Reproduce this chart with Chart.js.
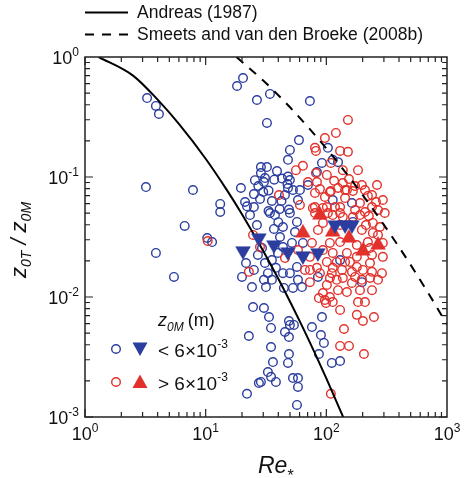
<!DOCTYPE html>
<html>
<head>
<meta charset="utf-8">
<script src="https://cdn.jsdelivr.net/npm/chart.js"></script>
<style>
  body { margin: 0; background: #fff; }
</style>
</head>
<body>
<canvas id="grafico" width="464" height="478"></canvas>
<script>
// Re* vs z0T/z0M
const andreas = [[1.3, 1.0], [2.5, 0.70], [4, 0.441], [6, 0.277], [10, 0.142], [15, 0.0777], [20, 0.0489],
    [30, 0.0242], [40, 0.0142], [60, 0.00633], [80, 0.00344], [100, 0.0021], [140, 0.000965]];
const smeets = [[18, 1.0], [30, 0.636], [50, 0.381], [100, 0.173], [200, 0.0708], [400, 0.0261], [700, 0.01077], [1000, 0.0059]];

// z0M < 6e-3
let azulCirc = [[3.27, 0.455], [3.87, 0.391], [4.10, 0.335], [3.2, 0.0825], [7.85, 0.0779], [13.2, 0.0596], [13.2, 0.0511],
    [6.7, 0.0391], [10.3, 0.031], [11.3, 0.0287], [3.87, 0.0233], [5.46, 0.0147],
    [18.2, 0.573], [20.4, 0.668], [26.6, 0.438], [34.1, 0.492], [73.1, 0.43], [32.2, 0.282], [59.3, 0.203], [49.9, 0.168],
    [48.1, 0.139], [103, 0.175], [113, 0.139], [125, 0.133], [92, 0.131], [83.6, 0.11],
    [28.7, 0.121], [32.2, 0.121], [39, 0.112], [28.7, 0.108], [31, 0.098], [37, 0.095], [42.9, 0.097], [48.1, 0.101],
    [27.3, 0.0841], [33.2, 0.077], [30, 0.075], [19.6, 0.081], [25.1, 0.072], [21.2, 0.0619], [22, 0.057], [25.1, 0.0562],
    [35.4, 0.0631], [41, 0.054], [33.2, 0.0521], [42.5, 0.063], [47.6, 0.0874], [52.9, 0.0779], [60.4, 0.0779], [58.2, 0.0643],
    [49, 0.0536], [30.4, 0.0908], [28.2, 0.0656], [48.1, 0.081], [70.4, 0.0858], [49.9, 0.0944], [163, 0.0607], [113, 0.0643],
    [57.1, 0.0422], [26.6, 0.0398], [36.8, 0.0369], [40, 0.042], [43.7, 0.0383], [49.9, 0.0501], [34.1, 0.0501], [41.3, 0.0316],
    [29.3, 0.0256], [27.1, 0.0224], [39.7, 0.0233], [43.7, 0.0261], [35.4, 0.0203], [21.6, 0.0192], [31, 0.0192], [25.1, 0.0168],
    [20, 0.0147], [32.8, 0.0158], [38.2, 0.0175], [43.7, 0.0158], [30.4, 0.0139], [35.4, 0.0139], [31.6, 0.0121], [44.5, 0.0119],
    [24.2, 0.0121], [24.7, 0.00825], [30.4, 0.0081], [51.9, 0.0282], [64, 0.0282], [57.1, 0.0178], [49.9, 0.0158], [58.2, 0.0139],
    [52.9, 0.0119], [62.8, 0.0121], [130, 0.0203], [197, 0.0133], [166, 0.0422], [85.2, 0.0147],
    [25.6, 0.094], [45.4, 0.0708], [37.5, 0.0482], [23.3, 0.0482], [55, 0.0348],
    [33.5, 0.00681], [34.8, 0.00552], [49, 0.00631], [49.9, 0.00585], [53.9, 0.00585], [45.4, 0.00511], [49, 0.00464],
    [22.8, 0.00473], [76, 0.00562], [92, 0.00681], [90.2, 0.00482], [95.5, 0.00414], [34.8, 0.00383], [49, 0.00335],
    [86.8, 0.00335], [36.1, 0.00287], [48.1, 0.00282], [111, 0.00282], [130, 0.00293], [32.8, 0.00237], [34.8, 0.00216],
    [38.2, 0.00196], [28.7, 0.00196], [27.6, 0.00192], [52.9, 0.00211], [58.2, 0.00211], [58.2, 0.00178], [22, 0.00156],
    [57.1, 0.00126]];

// z0M > 6e-3
let vermCirc = [[10.4, 0.0293], [40.5, 0.0708], [24.7, 0.0329], [28.2, 0.0261], [45.4, 0.0211], [22.8, 0.0162],
    [151, 0.299], [120, 0.233], [97.3, 0.211], [80.5, 0.175], [82, 0.165], [130, 0.165], [151, 0.162], [109, 0.131], [64, 0.124],
    [56, 0.114], [82, 0.108], [70.4, 0.0908], [83.6, 0.0908], [116, 0.093], [137, 0.0891], [154, 0.0962], [173, 0.084],
    [88.5, 0.0794], [97.3, 0.0681], [109, 0.0764], [125, 0.081], [148, 0.0779], [166, 0.0764], [101, 0.0562], [80.5, 0.0562],
    [118, 0.0562], [143, 0.0668], [221, 0.0695], [190, 0.0607], [243, 0.0414], [209, 0.0511], [258, 0.0619], [294, 0.0643],
    [130, 0.0562], [93.7, 0.0552], [173, 0.0531], [239, 0.0562], [268, 0.0531], [225, 0.0473], [113, 0.0482], [166, 0.0464],
    [137, 0.0464], [77.4, 0.0552], [80.5, 0.0736], [107, 0.075],
    [80.5, 0.0501], [103, 0.0501], [130, 0.0501], [243, 0.0342], [278, 0.0383], [93.7, 0.0414], [197, 0.0362], [221, 0.0287],
    [107, 0.0282], [130, 0.0287], [179, 0.0271], [93.7, 0.0246], [113, 0.0233], [148, 0.0233], [179, 0.0216], [239, 0.0224],
    [294, 0.0216], [101, 0.0196], [143, 0.0196], [179, 0.0178], [230, 0.0192], [83.6, 0.0175], [113, 0.0175], [135, 0.0168],
    [66.5, 0.0168], [163, 0.0162], [239, 0.0162], [289, 0.0158], [88.5, 0.0158], [107, 0.0144], [137, 0.0144], [173, 0.0147],
    [230, 0.0144], [268, 0.0139], [73.1, 0.0133], [101, 0.0126], [163, 0.0131], [190, 0.0114], [125, 0.0114], [93.7, 0.0108],
    [107, 0.01], [97.3, 0.00944], [183, 0.00908], [209, 0.00908], [294, 0.0282], [73.1, 0.0216], [58.2, 0.0246],
    [86.8, 0.0098], [99.3, 0.00891], [140, 0.00541], [130, 0.00391], [154, 0.00391], [109, 0.00156], [205, 0.00335],
    [201, 0.00631], [248, 0.00681], [197, 0.0139], [122, 0.0139], [111, 0.0158],
    [143, 0.0779], [197, 0.0858], [239, 0.0708], [190, 0.0482], [130, 0.0398], [213, 0.0398], [305, 0.0501], [268, 0.0329],
    [157, 0.0196], [201, 0.0168], [122, 0.0196], [76, 0.0282], [85.2, 0.0362], [230, 0.0256], [148, 0.011], [113, 0.00908],
    [239, 0.0114], [179, 0.0071], [130, 0.0078], [73.1, 0.0168], [60.4, 0.0585], [101, 0.104], [137, 0.114], [183, 0.114],
    [209, 0.0779], [263, 0.0858]];

// medias (triangulos)
let azulTri = [[20.4, 0.0242], [27.6, 0.031], [36.8, 0.0271], [48.1, 0.0237], [64, 0.022], [85.2, 0.0233],
    [118, 0.0398], [143, 0.0398], [163, 0.0398]];
let vermTri = [[88.5, 0.0482], [64, 0.0342], [113, 0.0348], [154, 0.031], [201, 0.0242], [268, 0.0271]];

const expX = [0, 1, 2, 3];
const expY = [0, -1, -2, -3];

const azul = "#2b3d9e";
const verm = "#e2302a";
const fonte = '"Liberation Sans", Arial, sans-serif';

const pts = (arr) => arr.map(p => ({ x: p[0], y: p[1] }));

function potencia(ctx, exp, x, y, align) {
    ctx.font = "18px " + fonte;
    const w1 = ctx.measureText("10").width;
    ctx.font = "12px " + fonte;
    const w2 = ctx.measureText(String(exp)).width;
    let x0 = align === "right" ? x - w1 - w2 : x - (w1 + w2) / 2;
    ctx.textAlign = "left";
    ctx.textBaseline = "alphabetic";
    ctx.font = "18px " + fonte;
    ctx.fillText("10", x0, y);
    ctx.font = "12px " + fonte;
    ctx.fillText(String(exp), x0 + w1, y - 8);
}

const decoracao = {
    id: "decoracao",
    afterDraw(chart) {
        const { ctx, chartArea: a, scales: { x, y } } = chart;
        ctx.save();
        ctx.strokeStyle = "#222";
        ctx.fillStyle = "#222";
        ctx.lineWidth = 1.5;
        ctx.strokeRect(a.left, a.top, a.right - a.left, a.bottom - a.top);

        // ticks para dentro, nos quatro lados
        ctx.lineWidth = 1.2;
        ctx.beginPath();
        for (let d = 0; d < 3; d++) {
            for (let k = 1; k <= 9; k++) {
                const px = x.getPixelForValue(k * Math.pow(10, d));
                const len = k === 1 ? 8 : 5;
                ctx.moveTo(px, a.bottom); ctx.lineTo(px, a.bottom - len);
                ctx.moveTo(px, a.top); ctx.lineTo(px, a.top + len);
            }
        }
        for (let d = -3; d < 0; d++) {
            for (let k = 1; k <= 9; k++) {
                const py = y.getPixelForValue(k * Math.pow(10, d));
                const len = k === 1 ? 8 : 5;
                ctx.moveTo(a.left, py); ctx.lineTo(a.left + len, py);
                ctx.moveTo(a.right, py); ctx.lineTo(a.right - len, py);
            }
        }
        ctx.stroke();

        // rotulos
        ctx.fillStyle = "#111";
        expX.forEach(e => potencia(ctx, e, x.getPixelForValue(Math.pow(10, e)), 440, "center"));
        expY.forEach(e => potencia(ctx, e, a.left - 6, y.getPixelForValue(Math.pow(10, e)) + 6.5, "right"));

        // titulo eixo x: Re*
        ctx.textAlign = "left";
        ctx.textBaseline = "alphabetic";
        ctx.font = "italic 23px " + fonte;
        ctx.fillText("Re", 258, 473);
        const wRe = ctx.measureText("Re").width;
        ctx.font = "16px " + fonte;
        ctx.fillText("*", 258 + wRe, 481);

        // titulo eixo y: z0T / z0M
        ctx.save();
        ctx.translate(26, 240);
        ctx.rotate(-Math.PI / 2);
        const partes = [["z", 22, 0], ["0T", 14, 5], [" / ", 22, 0], ["z", 22, 0], ["0M", 14, 5]];
        let total = 0;
        partes.forEach(p => { ctx.font = "italic " + p[1] + "px " + fonte; total += ctx.measureText(p[0]).width; });
        let cx = -total / 2;
        partes.forEach(p => {
            ctx.font = "italic " + p[1] + "px " + fonte;
            ctx.fillText(p[0], cx, p[2]);
            cx += ctx.measureText(p[0]).width;
        });
        ctx.restore();

        // legenda de cima
        ctx.strokeStyle = "#000";
        ctx.lineWidth = 2;
        ctx.beginPath(); ctx.moveTo(85, 12.5); ctx.lineTo(128, 12.5); ctx.stroke();
        ctx.setLineDash([9, 8]);
        ctx.beginPath(); ctx.moveTo(85, 34.5); ctx.lineTo(128, 34.5); ctx.stroke();
        ctx.setLineDash([]);
        ctx.font = "17.5px " + fonte;
        ctx.textBaseline = "middle";
        ctx.fillText("Andreas (1987)", 137, 13);
        ctx.fillText("Smeets and van den Broeke (2008b)", 137, 35);

        // legenda interna
        ctx.textBaseline = "alphabetic";
        ctx.font = "italic 18px " + fonte;
        ctx.fillText("z", 158, 326);
        let wz = ctx.measureText("z").width;
        ctx.font = "italic 12px " + fonte;
        ctx.fillText("0M", 158 + wz, 331);
        let w0m = ctx.measureText("0M").width;
        ctx.font = "18px " + fonte;
        ctx.fillText("(m)", 158 + wz + w0m + 4, 326);

        ctx.lineWidth = 1.4;
        ctx.strokeStyle = azul;
        ctx.beginPath(); ctx.arc(116, 349, 4.3, 0, Math.PI * 2); ctx.stroke();
        ctx.strokeStyle = verm;
        ctx.beginPath(); ctx.arc(116, 382, 4.3, 0, Math.PI * 2); ctx.stroke();

        ctx.fillStyle = azul;
        ctx.beginPath(); ctx.moveTo(132.5, 342.5); ctx.lineTo(147.5, 342.5); ctx.lineTo(140, 356); ctx.closePath(); ctx.fill();
        ctx.fillStyle = verm;
        ctx.beginPath(); ctx.moveTo(132.5, 388); ctx.lineTo(147.5, 388); ctx.lineTo(140, 374.5); ctx.closePath(); ctx.fill();

        ctx.fillStyle = "#111";
        const linhas = [["< 6\u00d710", 357], ["> 6\u00d710", 390]];
        linhas.forEach(l => {
            ctx.font = "19px " + fonte;
            ctx.fillText(l[0], 158, l[1]);
            const w = ctx.measureText(l[0]).width;
            ctx.font = "12px " + fonte;
            ctx.fillText("-3", 158 + w, l[1] - 9);
        });
        ctx.restore();
    }
};

const ctx = document.getElementById("grafico");

new Chart(ctx, {
    type: "scatter",
    data: {
        datasets: [
            {
                label: "Andreas (1987)",
                data: pts(andreas),
                showLine: true,
                borderColor: "#000",
                borderWidth: 2,
                pointRadius: 0,
                cubicInterpolationMode: "monotone",
                order: 1,
            },
            {
                label: "Smeets and van den Broeke (2008b)",
                data: pts(smeets),
                showLine: true,
                borderColor: "#000",
                borderWidth: 2,
                borderDash: [9, 8],
                pointRadius: 0,
                cubicInterpolationMode: "monotone",
                order: 1,
            },
            {
                label: "< 6x10-3",
                data: pts(azulCirc),
                pointStyle: "circle",
                pointRadius: 4.3,
                borderWidth: 1.4,
                borderColor: azul,
                backgroundColor: "rgba(0,0,0,0)",
                order: 3,
            },
            {
                label: "> 6x10-3",
                data: pts(vermCirc),
                pointStyle: "circle",
                pointRadius: 4.3,
                borderWidth: 1.4,
                borderColor: verm,
                backgroundColor: "rgba(0,0,0,0)",
                order: 2,
            },
            {
                label: "media < 6x10-3",
                data: pts(azulTri),
                pointStyle: "triangle",
                rotation: 180,
                pointRadius: 8.5,
                borderWidth: 0.5,
                borderColor: azul,
                backgroundColor: azul,
                order: 0,
            },
            {
                label: "media > 6x10-3",
                data: pts(vermTri),
                pointStyle: "triangle",
                pointRadius: 8.5,
                borderWidth: 0.5,
                borderColor: verm,
                backgroundColor: verm,
                order: 0,
            },
        ],
    },
    options: {
        responsive: false,
        animation: false,
        events: [],
        layout: {
            padding: { left: 85, right: 17, top: 57, bottom: 61 },
        },
        plugins: {
            legend: { display: false },
            tooltip: { enabled: false },
        },
        scales: {
            x: { type: "logarithmic", min: 1, max: 1000, display: false },
            y: { type: "logarithmic", min: 0.001, max: 1, display: false },
        },
    },
    plugins: [decoracao],
});
</script>
</body>
</html>
